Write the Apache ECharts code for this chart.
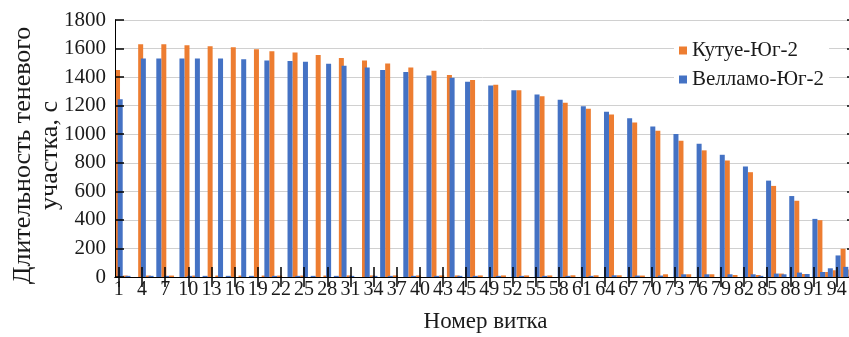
<!DOCTYPE html>
<html>
<head>
<meta charset="utf-8">
<script src="https://cdn.jsdelivr.net/npm/echarts@6/dist/echarts.min.js"></script>
<style>
html,body{margin:0;padding:0;background:#fff;}
#chart{width:849px;height:337px;}
</style>
</head>
<body>
<div id="chart"></div>
<script>
// Orbit numbers (categories)
const categories = ['1','2','3','4','5','6','7','8','9','10','11','12','13','14','15','16','17','18','19','20',
'21','22','23','24','25','26','27','28','29','30','31','32','33','34','35','36','37','38','39','40',
'41','42','43','44','45','46','47','48','49','50','51','52','53','54','55','56','57','58','59','60',
'61','62','63','64','65','66','67','68','69','70','71','72','73','74','75','76','77','78','79','80',
'81','82','83','84','85','86','87','88','89','90','91','92','93','94','95','96'];

// Tick labels shown every third orbit (as printed on the original)
const tickLabels = ['1','4','7','10','13','16','19','22','25','28','31','34','37','40','43','45',
'49','52','55','58','61','64','67','70','73','76','79','82','85','88','91','94'];

// Кутуе-Юг-2 shadow duration, s
const kutuye = [1449,10,0,1630,10,0,1630,10,0,1624,10,0,1617,10,0,1610,10,0,1596,10,
1582,10,0,1572,10,0,1554,10,0,1533,11,0,1516,11,0,1495,11,0,1467,11,
0,1444,11,1414,11,0,1379,11,0,1346,11,0,1308,11,0,1266,11,0,1220,12,
0,1178,12,0,1139,12,0,1082,10,0,1024,19,0,955,19,0,887,19,0,816,
14,0,734,14,0,638,24,0,534,21,0,398,35,47,198,52];

// Велламо-Юг-2 shadow duration, s
const vellamo = [1245,8,0,1530,8,1530,8,0,1530,8,1530,8,0,1530,8,0,1525,8,0,1516,
8,0,1512,8,1507,8,0,1493,8,1479,8,0,1467,8,1449,8,0,1435,8,0,
1411,8,0,1395,8,1367,8,0,1341,8,0,1308,8,0,1278,8,0,1241,8,0,
1196,8,0,1158,12,0,1111,10,0,1054,10,0,1002,19,0,934,19,0,856,19,
0,774,19,8,675,24,19,567,31,21,407,35,61,151,71,45];

const serif = "'Liberation Serif','Times New Roman',serif";
const txt = '#1a1a1a';

const chart = echarts.init(document.getElementById('chart'), null, {renderer:'canvas'});
chart.setOption({
  animation: false,
  backgroundColor: '#ffffff',
  textStyle: {fontFamily: serif, color: txt},
  grid: {left: 115, right: -7, top: 20, bottom: 60, containLabel: false, outerBoundsMode: 'none'},
  legend: {
    orient: 'vertical',
    left: 674, top: 35,
    padding: [5,5,5,5],
    backgroundColor: '#ffffff',
    itemWidth: 8, itemHeight: 8, itemGap: 8,
    icon: 'rect',
    textStyle: {fontFamily: serif, fontSize: 21, color: txt, padding: [0,0,0,0]},
    data: ['Кутуе-Юг-2', 'Велламо-Юг-2']
  },
  xAxis: [{
    type: 'category',
    data: categories,
    position: 'bottom',
    z: 10,
    name: 'Номер витка',
    nameLocation: 'middle',
    nameGap: 33,
    nameMoveOverlap: false,
    nameTextStyle: {fontFamily: serif, fontSize: 23, color: txt},
    axisLine: {show: true, lineStyle: {color: '#000', width: 1}},
    axisTick: {show: true, inside: true, length: 10, interval: 2, alignWithLabel: true, lineStyle: {color: '#000', width: 1.5}},
    axisLabel: {
      interval: 2, margin: 3, fontFamily: serif, fontSize: 20, color: txt,
      formatter: function (v, i) { return (i % 3 === 0) ? tickLabels[i / 3] : ''; }
    },
    splitLine: {show: false}
  }, {
    type: 'category',
    data: categories,
    position: 'top',
    z: 10,
    axisLine: {show: true, lineStyle: {color: '#000', width: 1}},
    axisTick: {show: true, inside: true, length: 10, interval: 2, alignWithLabel: true, lineStyle: {color: '#000', width: 1.5}},
    axisLabel: {show: false},
    splitLine: {show: false}
  }],
  yAxis: [{
    type: 'value',
    position: 'left',
    z: 10,
    min: 0, max: 1800, interval: 200,
    name: 'Длительность теневого\nучастка, с',
    nameLocation: 'middle',
    nameRotate: 90,
    nameGap: 51,
    nameMoveOverlap: false,
    nameTextStyle: {fontFamily: serif, fontSize: 26, color: txt, lineHeight: 27, padding: [0, 14, 0, 0]},
    axisLine: {show: true, lineStyle: {color: '#000', width: 1}},
    axisTick: {show: true, inside: true, length: 9, lineStyle: {color: '#000', width: 1.5}},
    axisLabel: {margin: 9, fontFamily: serif, fontSize: 21, color: txt,
      formatter: function (v) { return String(v); }},
    splitLine: {show: false}
  }, {
    type: 'value',
    position: 'right',
    min: 0, max: 1800, interval: 200,
    axisLine: {show: true, lineStyle: {color: '#000', width: 1}},
    axisTick: {show: true, inside: true, length: 9, lineStyle: {color: '#000', width: 1.5}},
    axisLabel: {show: false},
    splitLine: {show: true, lineStyle: {color: '#d0d0d0', width: 1}}
  }],
  series: [{
    name: 'Кутуе-Юг-2',
    type: 'bar',
    xAxisIndex: 0, yAxisIndex: 0,
    data: kutuye,
    barWidth: 5,
    barGap: '-46%',
    itemStyle: {color: '#ED7D31'}
  }, {
    name: 'Велламо-Юг-2',
    type: 'bar',
    xAxisIndex: 0, yAxisIndex: 0,
    data: vellamo,
    barWidth: 5,
    barGap: '-46%',
    itemStyle: {color: '#4472C4'}
  }]
});
</script>
</body>
</html>
